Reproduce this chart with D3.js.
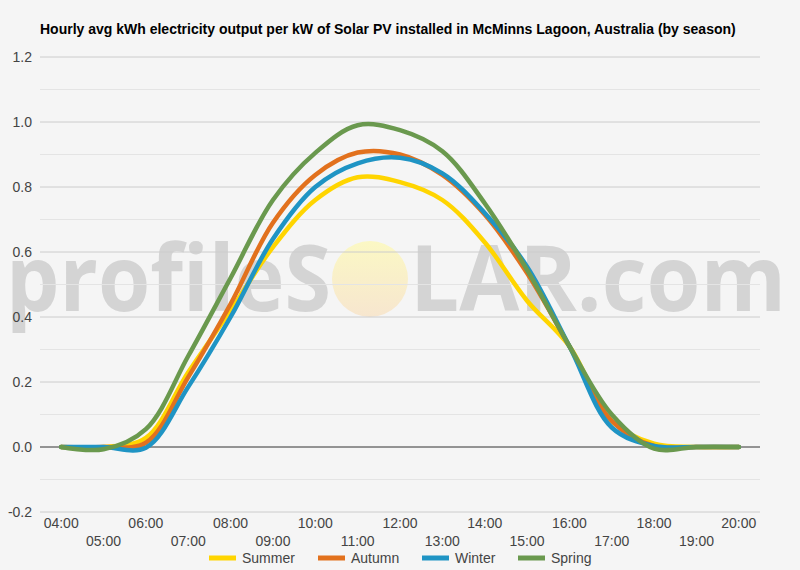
<!DOCTYPE html>
<html>
<head>
<meta charset="utf-8">
<script src="https://cdn.jsdelivr.net/npm/d3@7"></script>
<style>
  body { margin: 0; background: #f5f5f5; }
  svg { display: block; font-family: "Liberation Sans", Arial, sans-serif; }
</style>
</head>
<body>
<svg id="chart" width="800" height="570"></svg>
<script>
var hours = ['04:00','05:00','06:00','07:00','08:00','09:00','10:00','11:00','12:00',
             '13:00','14:00','15:00','16:00','17:00','18:00','19:00','20:00']

var summer = [0, 0, 0.028, 0.23, 0.42, 0.615, 0.76, 0.83, 0.815, 0.76, 0.63, 0.45, 0.31, 0.08, 0.01, 0, 0]
var autumn = [0, 0, 0.013, 0.215, 0.44, 0.69, 0.837, 0.906, 0.9, 0.837, 0.715, 0.535, 0.31, 0.08, 0.003, 0, 0]
var winter = [0, 0, -0.002, 0.185, 0.40, 0.64, 0.80, 0.873, 0.89, 0.842, 0.72, 0.555, 0.31, 0.06, 0.003, 0, 0]
var spring = [0, -0.007, 0.055, 0.28, 0.52, 0.76, 0.905, 0.99, 0.975, 0.91, 0.75, 0.545, 0.31, 0.10, -0.005, 0, 0]

var seasons = ['Summer', 'Autumn', 'Winter', 'Spring']
var seriesValues = [summer, autumn, winter, spring]
var colors = ['#ffd500', '#e2711d', '#1f94c4', '#6a994e']

var yTicks = [-0.2, 0, 0.2, 0.4, 0.6, 0.8, 1.0, 1.2]
var yMinor = [-0.1, 0.1, 0.3, 0.5, 0.7, 0.9, 1.1]

var svg = d3.select('#chart')

var x = d3.scalePoint().domain(hours).range([40, 760]).padding(0.5)
var y = d3.scaleLinear().domain([-0.2, 1.2]).range([512, 57])

svg.append('rect').attr('width', 800).attr('height', 570).attr('fill', '#f5f5f5')

// watermark
var wm = svg.append('g').attr('class', 'watermark')
var grad = svg.append('defs').append('linearGradient')
    .attr('id', 'sun').attr('x1', 0).attr('x2', 0).attr('y1', 0).attr('y2', 1)
grad.append('stop').attr('offset', '0%').attr('stop-color', '#fbf8c4')
grad.append('stop').attr('offset', '100%').attr('stop-color', '#f7e6cf')
wm.append('ellipse')
    .attr('cx', 370).attr('cy', 279).attr('rx', 38).attr('ry', 38)
    .attr('fill', 'url(#sun)')
wm.append('text')
    .attr('x', 6).attr('y', 311)
    .attr('textLength', 325).attr('lengthAdjust', 'spacingAndGlyphs')
    .style('font-family', '"Open Sans", sans-serif').style('font-weight', 700)
    .style('font-size', '92px').attr('fill', '#d4d4d4')
    .text('profileS')
wm.append('text')
    .attr('x', 410).attr('y', 311)
    .attr('textLength', 376).attr('lengthAdjust', 'spacingAndGlyphs')
    .style('font-family', '"Open Sans", sans-serif').style('font-weight', 700)
    .style('font-size', '92px').attr('fill', '#d4d4d4')
    .text('LAR.com')

// gridlines
svg.append('g').selectAll('line.minor').data(yMinor).join('line')
    .attr('x1', 40).attr('x2', 760)
    .attr('y1', d => y(d)).attr('y2', d => y(d))
    .attr('stroke', '#e4e4e4').attr('stroke-width', 1)

svg.append('g').selectAll('line.major').data(yTicks).join('line')
    .attr('x1', 40).attr('x2', 760)
    .attr('y1', d => y(d)).attr('y2', d => y(d))
    .attr('stroke', d => d == 0 ? '#333' : '#cccccc').attr('stroke-width', 1)

svg.append('g').selectAll('text').data(yTicks).join('text')
    .attr('x', 32).attr('y', d => y(d)).attr('dy', '0.35em')
    .attr('text-anchor', 'end')
    .style('font-size', '14px').attr('fill', '#444')
    .text(d => d.toFixed(1))

// x axis labels, staggered on two rows
svg.append('g').selectAll('text').data(hours).join('text')
    .attr('x', d => x(d))
    .attr('y', (d, i) => i % 2 ? 546 : 528)
    .attr('text-anchor', 'middle')
    .style('font-size', '14px').attr('fill', '#444')
    .text(d => d)

// lines
var line = d3.line()
    .x((d, i) => x(hours[i]))
    .y(d => y(d))
    .curve(d3.curveCatmullRom.alpha(0.5))

svg.append('g').selectAll('path').data(seriesValues).join('path')
    .attr('d', line)
    .attr('fill', 'none')
    .attr('stroke', (d, i) => colors[i])
    .attr('stroke-width', 4.5)
    .attr('stroke-linejoin', 'round')
    .attr('stroke-linecap', 'round')

// title
svg.append('text')
    .attr('x', 40).attr('y', 34)
    .style('font-size', '14px').style('font-weight', 'bold').attr('fill', '#000')
    .text('Hourly avg kWh electricity output per kW of Solar PV installed in McMinns Lagoon, Australia (by season)')

// legend
var legendX = [209, 318, 422, 518]
var legend = svg.append('g').selectAll('g').data(seasons).join('g')
    .attr('transform', (d, i) => 'translate(' + legendX[i] + ',558)')
legend.append('line')
    .attr('x1', 0).attr('x2', 27)
    .attr('stroke', (d, i) => colors[i]).attr('stroke-width', 5)
legend.append('text')
    .attr('x', 33).attr('dy', '0.35em')
    .style('font-size', '14px').attr('fill', '#444')
    .text(d => d)
</script>
</body>
</html>
